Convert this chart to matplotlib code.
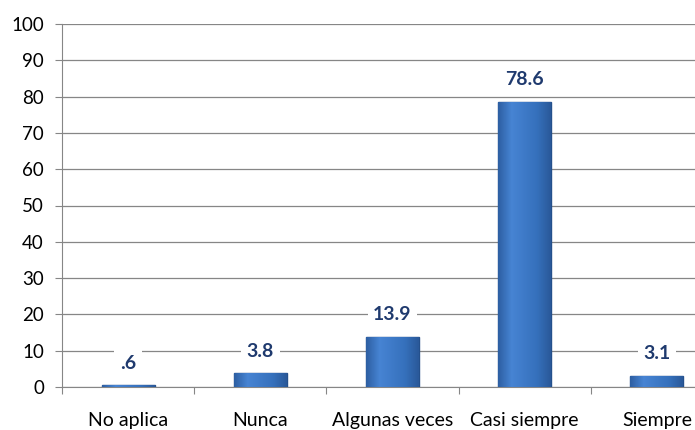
import numpy as np
import matplotlib
matplotlib.use("Agg")
import matplotlib.pyplot as plt
from matplotlib.colors import LinearSegmentedColormap

categorias = ["No aplica", "Nunca", "Algunas veces", "Casi siempre", "Siempre"]
valores = [0.6, 3.8, 13.9, 78.6, 3.1]
etiquetas = [".6", "3.8", "13.9", "78.6", "3.1"]

plt.rcParams['font.family'] = ['Lato', 'DejaVu Sans']

fig = plt.figure(figsize=(6.95, 4.3), dpi=100)
# rechter Rand liegt ausserhalb des Bildes (wie im Original abgeschnitten)
ax = fig.add_axes([62 / 695, (430 - 387) / 430, (723 - 62) / 695, (387 - 24) / 430])

x = np.arange(len(categorias))
ancho = 0.4
bars = ax.bar(x, valores, width=ancho, color="#3B74C2", edgecolor="#24508C",
              linewidth=1.0, zorder=3)

# Verlauf fuer den 3D-Look
cmap = LinearSegmentedColormap.from_list("b", ["#2D5FA3", "#4784D3", "#3E7AC8", "#3570BB", "#2A599A"])
grad = np.linspace(0, 1, 64).reshape(1, -1)
for b in bars:
    x0, w, h = b.get_x(), b.get_width(), b.get_height()
    im = ax.imshow(grad, cmap=cmap, aspect="auto", extent=[x0, x0 + w, 0, h], zorder=3.5)
    im.set_clip_path(b)

for xi, v, t in zip(x, valores, etiquetas):
    ax.text(xi, v + 6, t, ha="center", va="center", fontsize=14, fontweight="bold",
            color="#1F3A6E", zorder=5,
            bbox=dict(facecolor="white", edgecolor="none", pad=4))

ax.set_xlim(-0.5, len(categorias) - 0.5)
ax.set_ylim(0, 100)
ax.set_yticks(np.arange(0, 101, 10))
ax.set_xticks(np.arange(-0.5, len(categorias), 1))
ax.set_xticklabels([])
ax.set_xticks(x, minor=True)
ax.set_xticklabels(categorias, minor=True, fontsize=14)
ax.tick_params(axis="x", which="minor", length=0, pad=18)
ax.tick_params(axis="x", which="major", length=5, color="#868686", direction="out")
ax.tick_params(axis="y", length=5, color="#868686", labelsize=13.5, pad=8)

ax.grid(axis="y", color="#868686", linewidth=0.9, zorder=0)
for s in ["top", "right"]:
    ax.spines[s].set_visible(False)
ax.spines["left"].set_color("#868686")
ax.spines["bottom"].set_color("#868686")

fig.savefig("out.png", dpi=100)
